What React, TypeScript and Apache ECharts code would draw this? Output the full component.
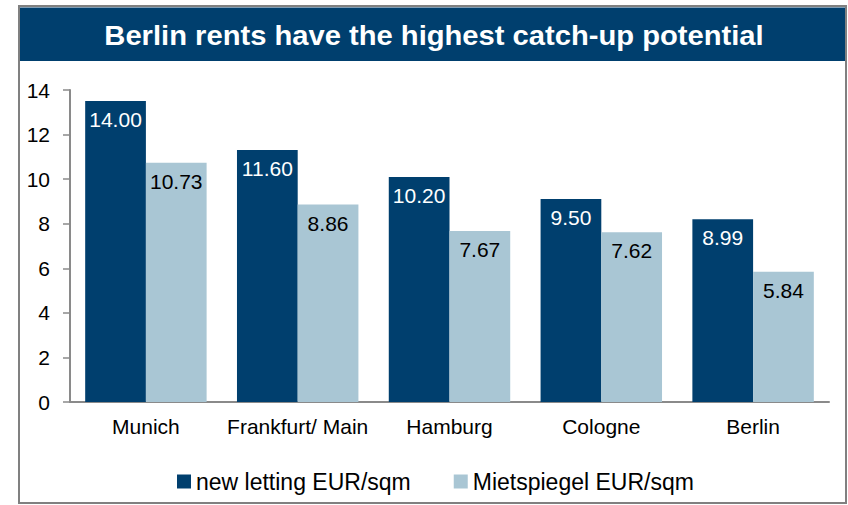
import React, { useEffect, useRef } from "react";
import * as echarts from "echarts";

const title = "Berlin rents have the highest catch-up potential";
const categories = ["Munich", "Frankfurt/ Main", "Hamburg", "Cologne", "Berlin"];
const seriesNames = ["new letting EUR/sqm", "Mietspiegel EUR/sqm"];
// bar heights as drawn in the picture
const newLettingBars = [13.51, 11.31, 10.1, 9.11, 8.2];
// values printed on the bars
const newLettingLabels = [14.0, 11.6, 10.2, 9.5, 8.99];
const mietspiegel = [10.73, 8.86, 7.67, 7.62, 5.84];
const yTicks = { min: 0, max: 14, interval: 2 };

const FONT = '"Liberation Sans", Arial, sans-serif';
const DARK = "#003F6E";
const LIGHT = "#A9C6D4";
const AXIS = "#8A8A8A";

export default function App() {
  const ref = useRef<HTMLDivElement>(null);
  useEffect(() => {
    if (!ref.current) return;
    const chart = echarts.init(ref.current, undefined, { renderer: "svg" });
    chart.setOption({
      animation: false,
      backgroundColor: "#fff",
      textStyle: { fontFamily: FONT },
      graphic: [
        {
          type: "rect",
          shape: { x: 19, y: 6, width: 827, height: 497 },
          style: { fill: "none", stroke: "#808080", lineWidth: 2 },
          silent: true,
        },
        {
          type: "rect",
          shape: { x: 20, y: 7.5, width: 825, height: 53.5 },
          style: { fill: DARK },
          silent: true,
        },
        {
          type: "text",
          x: 434,
          y: 36,
          scaleX: 1.08,
          style: {
            text: title,
            fill: "#fff",
            fontSize: 27,
            fontWeight: "bold",
            fontFamily: FONT,
            align: "center",
            verticalAlign: "middle",
          },
          silent: true,
        },
      ],
      grid: { left: 70, right: 19, top: 90, bottom: 103, containLabel: false },
      legend: {
        data: seriesNames,
        left: 172,
        top: 465,
        itemWidth: 14,
        itemHeight: 14,
        itemGap: 43,
        icon: "rect",
        textStyle: { fontSize: 23, color: "#000", fontFamily: FONT },
      },
      xAxis: {
        type: "category",
        data: categories,
        axisLine: { show: true, lineStyle: { color: AXIS, width: 2 } },
        axisTick: { show: false },
        axisLabel: { color: "#000", fontSize: 21, margin: 14, interval: 0, fontFamily: FONT },
      },
      yAxis: {
        type: "value",
        min: yTicks.min,
        max: yTicks.max,
        interval: yTicks.interval,
        splitLine: { show: false },
        axisLine: { show: true, lineStyle: { color: AXIS, width: 2 } },
        axisTick: { show: true, length: 7, lineStyle: { color: AXIS, width: 1.5 } },
        axisLabel: { color: "#000", fontSize: 21, margin: 20, fontFamily: FONT },
      },
      series: [
        {
          name: seriesNames[0],
          type: "bar",
          data: newLettingBars,
          itemStyle: { color: DARK },
          barGap: "0%",
          barCategoryGap: "20%",
          label: {
            show: true,
            position: "insideTop",
            distance: 8,
            color: "#fff",
            fontSize: 21,
            fontFamily: FONT,
            formatter: (p: any) => newLettingLabels[p.dataIndex].toFixed(2),
          },
        },
        {
          name: seriesNames[1],
          type: "bar",
          data: mietspiegel,
          itemStyle: { color: LIGHT },
          barGap: "0%",
          barCategoryGap: "20%",
          label: {
            show: true,
            position: "insideTop",
            distance: 8,
            color: "#000",
            fontSize: 21,
            fontFamily: FONT,
            formatter: (p: any) => Number(p.value).toFixed(2),
          },
        },
      ],
    });
    return () => chart.dispose();
  }, []);
  return (
    <div
      ref={ref}
      style={{ position: "fixed", left: 0, top: 0, width: 848, height: 505, background: "#fff" }}
    />
  );
}
